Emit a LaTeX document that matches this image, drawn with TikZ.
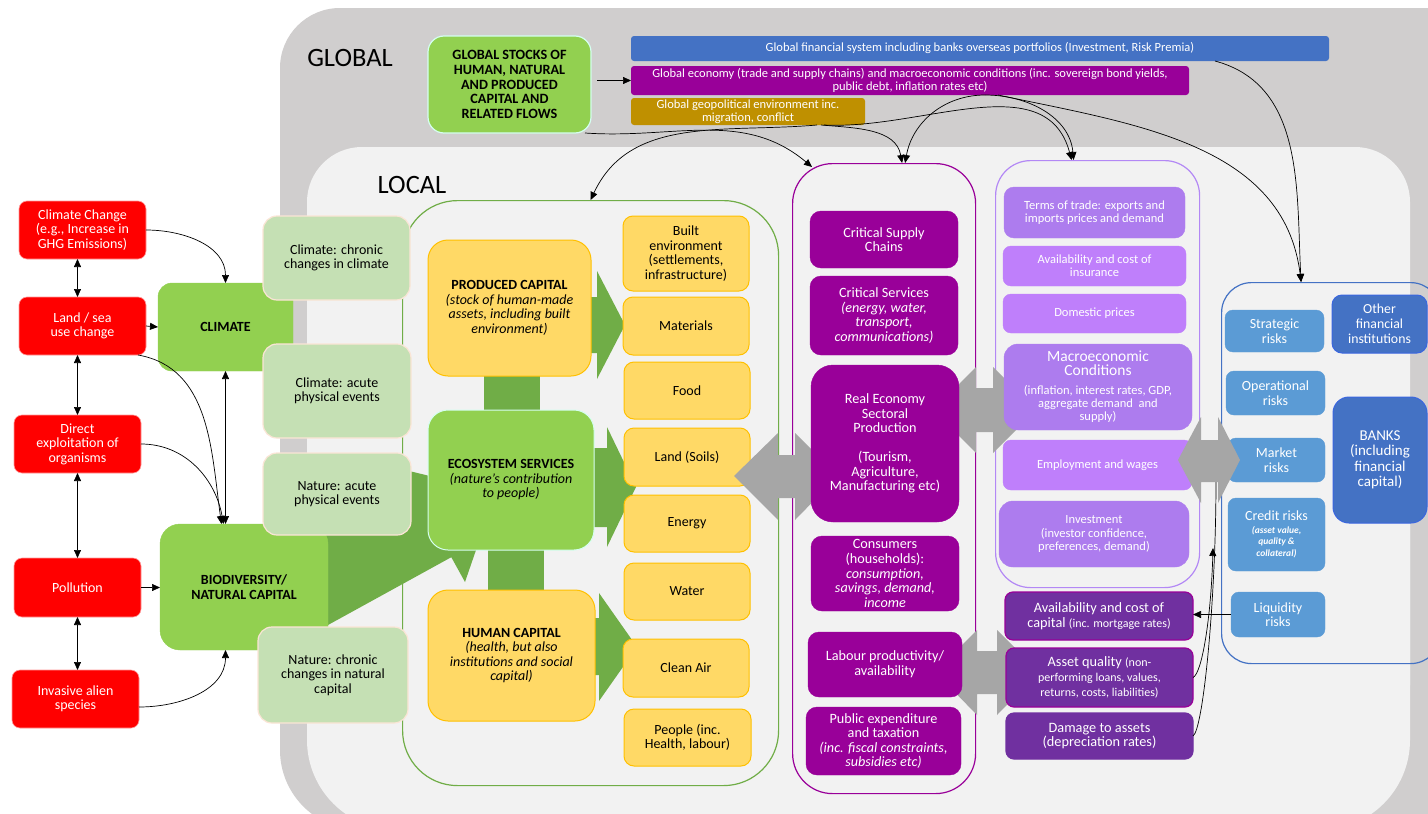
\documentclass[tikz,border=0pt]{standalone}
\usepackage{fontspec}
\setmainfont{Carlito}
\usetikzlibrary{arrows.meta,calc}
\definecolor{cGray}{HTML}{D0CECE}
\definecolor{cLocal}{HTML}{F2F2F2}
\definecolor{cRed}{HTML}{FF0000}
\definecolor{cRedB}{HTML}{FF9A9A}
\definecolor{cGreen}{HTML}{92D050}
\definecolor{cDGreen}{HTML}{70AD47}
\definecolor{cLGreen}{HTML}{C5E0B4}
\definecolor{cPeach}{HTML}{FBE5D6}
\definecolor{cYellow}{HTML}{FFD966}
\definecolor{cYellowB}{HTML}{FFC000}
\definecolor{cPurple}{HTML}{990099}
\definecolor{cLPurpleA}{HTML}{AD7CEE}
\definecolor{cLPurpleB}{HTML}{BF7FFB}
\definecolor{cLPurpleBorder}{HTML}{B388F5}
\definecolor{cDPurple}{HTML}{7030A0}
\definecolor{cBlueL}{HTML}{5B9BD5}
\definecolor{cBlue}{HTML}{4472C4}
\definecolor{cBlueB}{HTML}{3A66E0}
\definecolor{cGold}{HTML}{BF9000}
\definecolor{cArrow}{HTML}{A6A6A6}
\definecolor{cCyan}{HTML}{D5FFF0}
\newcommand{\bx}[7]{\node[#1,anchor=north west,minimum width={#5-#3},minimum height={#6-#4}] (#2) at (#3,#4) {#7};}
\newcommand{\mfont}{\fontsize{15.5}{17}\selectfont}
\newcommand{\crfont}{\fontsize{9.5}{10}\selectfont\bfseries\itshape}
\newcommand{\smf}{\fontsize{12}{13}\selectfont}
\newcommand{\asf}{\fontsize{12}{13}\selectfont}
\tikzset{
  base/.style={align=center, inner sep=2pt, outer sep=0pt},
  redb/.style={base, fill=cRed, draw=cRedB, line width=0.6pt, rounded corners=8pt, text=white, font=\fontsize{14}{14.5}\selectfont},
  greenb/.style={base, fill=cGreen, draw=cGreen, font=\fontsize{14}{15.5}\selectfont\bfseries},
  lgreenb/.style={base, fill=cLGreen, draw=cPeach, line width=1.2pt, rounded corners=14pt, font=\fontsize{14}{14.5}\selectfont},
  capb/.style={base, fill=cYellow, draw=cYellowB, line width=1pt, rounded corners=20pt, font=\fontsize{14}{14.5}\selectfont},
  yb/.style={base, fill=cYellow, draw=cYellowB, line width=1pt, rounded corners=10pt, font=\fontsize{14}{14.5}\selectfont},
  gstockst/.style={base, fill=cGreen, draw=cCyan, line width=1.2pt, rounded corners=16pt, font=\fontsize{14.2}{14.6}\selectfont\bfseries},
  barst/.style={base, inner sep=1pt, rounded corners=3pt, text=white, font=\fontsize{12.5}{13.5}\selectfont},
  contst/.style={draw, line width=1.2pt, fill=none, inner sep=0pt},
  pb/.style={base, fill=cPurple, draw=cPurple, rounded corners=11pt, text=white, font=\fontsize{14.2}{14.6}\selectfont},
  lpA/.style={base, fill=cLPurpleA, draw=cLPurpleA, rounded corners=10pt, text=white, font=\fontsize{12.5}{13.2}\selectfont},
  lpB/.style={base, fill=cLPurpleB, draw=cLPurpleB, rounded corners=8pt, text=white, font=\fontsize{12.5}{13.2}\selectfont},
  dpb/.style={base, fill=cDPurple, draw=cDPurple, line width=1.2pt, rounded corners=8pt, text=white, font=\fontsize{14.3}{14.8}\selectfont},
  rb/.style={base, fill=cBlueL, draw=cBlueL, rounded corners=8pt, text=white, font=\fontsize{14}{14.5}\selectfont},
  bb/.style={base, fill=cBlue, draw=cBlueB, line width=1pt, rounded corners=10pt, text=white, font=\fontsize{13.8}{15}\selectfont},
  arr/.style={-{Triangle[length=8pt,width=7pt]}, line width=0.7pt, black},
  darr/.style={{Triangle[length=8pt,width=7pt]}-{Triangle[length=8pt,width=7pt]}, line width=0.7pt, black},
  garrow/.style={fill=cArrow},
  dgarrow/.style={fill=cDGreen}
}
\begin{document}
\begin{tikzpicture}[x=1pt,y=-1pt]
\useasboundingbox (0,0) rectangle (1428,814);
\clip (0,0) rectangle (1428,814);
\fill[white] (0,0) rectangle (1428,814);
% panels
\fill[cGray, rounded corners=60pt] (280,8) rectangle (1490,600);
\fill[cGray, rounded corners=80pt] (280,300) rectangle (1490,830);
\fill[cLocal, rounded corners=55pt] (307,147) rectangle (1410,740);
\fill[cLocal, rounded corners=90pt] (307,400) rectangle (1410,830);
\node[font=\fontsize{26.5}{30}\selectfont] (tglobal) at (350,58) {GLOBAL};
\node[font=\fontsize{26.5}{30}\selectfont] (tlocal) at (412,185) {LOCAL};
% containers
\bx{contst,draw=cDGreen,rounded corners=55pt}{gcont}{402}{200}{778}{785}{}
\bx{contst,draw=cPurple,rounded corners=40pt}{pcont}{792}{163}{975}{793}{}
\bx{contst,draw=cLPurpleBorder,rounded corners=35pt}{lpcont}{995}{160}{1199}{587}{}
\bx{contst,draw=cBlue,rounded corners=30pt}{bcont}{1221}{282}{1440}{663}{}
% dark green block arrows
\fill[dgarrow] (585,297) -- (597,297) -- (597,271) -- (625,325) -- (597,379) -- (597,353) -- (585,353) -- cycle;
\fill[dgarrow] (590,448) -- (607,448) -- (607,427) -- (636,487) -- (607,547) -- (607,527) -- (590,527) -- cycle;
\fill[dgarrow] (590,618) -- (599,618) -- (599,593) -- (637,647) -- (599,701) -- (599,675) -- (590,675) -- cycle;
\fill[dgarrow] (484,370) rectangle (540,415);
\fill[dgarrow] (488,545) rectangle (544,595);
\fill[dgarrow] (300,640.4) -- (451.3,557.2) -- (465,582) -- (496,492) -- (405,470) -- (411.2,484.2) -- (300,545.4) -- cycle;
% gray arrows under boxes
\fill[garrow] (933,410) -- (976,367) -- (976,388) -- (993,388) -- (993,367) -- (1036,410) -- (993,453) -- (993,432) -- (976,432) -- (976,453) -- cycle;
\fill[garrow] (935,672) -- (977,630) -- (977,651) -- (997,651) -- (997,630) -- (1039,672) -- (997,715) -- (997,694) -- (977,694) -- (977,715) -- cycle;
% global boxes
\bx{gstockst}{gstock}{428}{36}{591}{133}{GLOBAL STOCKS OF\\HUMAN, NATURAL\\AND PRODUCED\\CAPITAL AND\\RELATED FLOWS}
\bx{barst,fill=cBlue}{gfin}{631}{36}{1329}{61}{Global financial system including banks overseas portfolios (Investment, Risk Premia)}
\bx{barst,fill=cPurple}{gecon}{631}{66}{1189}{95}{Global economy (trade and supply chains) and macroeconomic conditions (inc. sovereign bond yields,\\public debt, inflation rates etc)}
\bx{barst,fill=cGold}{geo}{631}{98}{865}{125}{Global geopolitical environment inc.\\migration, conflict}
% red drivers
\bx{redb}{cc}{19}{201}{146}{259}{Climate Change\\(e.g., Increase in\\GHG Emissions)}
\bx{redb}{land}{19}{297}{146}{355}{Land / sea\\use change}
\bx{redb}{dir}{14}{415}{141}{473}{Direct\\exploitation of\\organisms}
\bx{redb}{poll}{14}{558}{141}{617}{Pollution}
\bx{redb}{inv}{12}{670}{139}{728}{Invasive alien\\species}
% green
\bx{greenb,rounded corners=14pt}{climate}{158}{283}{293}{371}{CLIMATE}
\bx{greenb,rounded corners=20pt}{bio}{160}{524}{328}{650}{BIODIVERSITY/\\NATURAL CAPITAL}
\bx{lgreenb}{cchron}{263}{216}{410}{300}{Climate: chronic\\changes in climate}
\bx{lgreenb}{cacute}{263}{344}{411}{438}{Climate: acute\\physical events}
\bx{lgreenb}{nacute}{263}{453}{411}{535}{Nature: acute\\physical events}
\bx{lgreenb}{nchron}{258}{627}{408}{723}{Nature: chronic\\changes in natural\\capital}
% capitals
\bx{capb}{prod}{428}{240}{591}{376}{\textbf{PRODUCED CAPITAL}\\\textit{(stock of human-made}\\\textit{assets, including built}\\\textit{environment)}}
\bx{capb,fill=cGreen,draw=cCyan}{eco}{428}{410}{594}{550}{\textbf{ECOSYSTEM SERVICES}\\\textit{(nature's contribution}\\\textit{to people)}}
\bx{capb}{hum}{428}{590}{595}{721}{\textbf{HUMAN CAPITAL}\\\textit{(health, but also}\\\textit{institutions and social}\\\textit{capital)}}
% yellow flows
\bx{yb}{built}{623}{216}{749}{291}{Built\\environment\\(settlements,\\infrastructure)}
\bx{yb}{mat}{623}{297}{749}{355}{Materials}
\bx{yb}{food}{624}{362}{750}{419}{Food}
\bx{yb}{soil}{624}{428}{750}{486}{Land (Soils)}
\bx{yb}{energy}{624}{495}{750}{552}{Energy}
\bx{yb}{water}{624}{563}{750}{620}{Water}
\bx{yb}{air}{623}{639}{749}{697}{Clean Air}
\bx{yb}{people}{624}{709}{751}{766}{People (inc.\\Health, labour)}
% gray arrow over yellow, under purple
\fill[garrow] (734,476) -- (778,433) -- (778,455) -- (795,455) -- (795,433) -- (838,476) -- (795,520) -- (795,498) -- (778,498) -- (778,520) -- cycle;
% purple column
\bx{pb}{csc}{810}{211}{958}{268}{Critical Supply\\Chains}
\bx{pb}{cserv}{810}{276}{958}{355}{Critical Services\\\textit{(energy, water,}\\\textit{transport,}\\\textit{communications)}}
\bx{pb,rounded corners=22pt}{real}{811}{365}{959}{522}{Real Economy\\Sectoral\\Production\\[14pt](Tourism,\\Agriculture,\\Manufacturing etc)}
\bx{pb}{cons}{811}{536}{959}{611}{Consumers\\(households):\\\textit{consumption,}\\\textit{savings, demand,}\\\textit{income}}
\bx{pb}{lab}{808}{632}{962}{697}{Labour productivity/\\availability}
\bx{pb}{pub}{806}{707}{961}{775}{Public expenditure\\and taxation\\\textit{(inc. fiscal constraints,}\\\textit{subsidies etc)}}
% light purple column
\bx{lpA}{tot}{1004}{187}{1185}{238}{Terms of trade: exports and\\imports prices and demand}
\bx{lpB}{ins}{1003}{246}{1186}{286}{Availability and cost of\\insurance}
\bx{lpB}{dom}{1003}{294}{1186}{333}{Domestic prices}
\bx{lpA,rounded corners=14pt}{macro}{1004}{344}{1192}{430}{\mfont Macroeconomic\\\mfont Conditions\\[6pt](inflation, interest rates, GDP,\\aggregate demand\ \ and\\supply)}
\bx{lpB}{emp}{1003}{440}{1192}{490}{Employment and wages}
\bx{lpA,rounded corners=14pt}{invest}{999}{501}{1189}{567}{Investment\\(investor confidence,\\preferences, demand)}
% dark purple
\bx{dpb,draw=cPurple}{cap}{1005}{592}{1193}{640}{Availability and cost of\\capital {\smf(inc. mortgage rates)}}
\bx{dpb,draw=cPurple}{asset}{1006}{648}{1193}{707}{Asset quality {\asf(non-}\\\asf performing loans, values,\\\asf returns, costs, liabilities)}
\bx{dpb}{dmg}{1006}{713}{1193}{759}{Damage to assets\\(depreciation rates)}
% blue
\bx{rb}{strat}{1225}{310}{1324}{352}{Strategic\\risks}
\bx{rb}{oper}{1226}{371}{1325}{415}{Operational\\risks}
\bx{rb}{mkt}{1228}{438}{1325}{482}{Market\\risks}
\bx{rb}{cred}{1228}{498}{1325}{571}{Credit risks\\[-2pt]\crfont (asset value,\\[-3pt]\crfont quality \&\\[-3pt]\crfont collateral)}
\bx{rb}{liq}{1231}{592}{1325}{637}{Liquidity\\risks}
\bx{bb}{ofi}{1332}{295}{1427}{353}{Other\\financial\\institutions}
\bx{bb,rounded corners=16pt,font=\fontsize{15}{15.5}\selectfont}{banks}{1333}{397}{1427}{523}{BANKS\\(including\\financial\\capital)}
% connectors left
\coordinate (bioin) at (climate.south |- bio.north);
\draw[arr] (cc.east) to[out=0,in=90] (climate.north);
\draw[darr] (cc.south -| dir.north) -- (land.north -| dir.north);
\draw[darr] (land.south -| dir.north) -- (dir.north);
\draw[darr] (dir.south) -- (poll.north);
\draw[darr] (poll.south) -- (poll.south |- inv.north);
\draw[arr] (land.east) -- (climate.west);
\draw[darr] (climate.south) -- (bioin);
\draw[arr] ([xshift=-8pt]land.south east) to[out=-10,in=98] ([xshift=-4pt]bioin);
\draw[arr] (dir.east) to[out=0,in=100] ([xshift=-2pt]bioin);
\draw[arr] (poll.east) -- (poll.east -| bio.west);
\draw[arr] ([yshift=-8pt]inv.east) to[out=0,in=-90] (climate.south |- bio.south);
% global connectors
\draw[arr, shorten <=6pt] (gstock.east |- gecon.west) -- (gecon.west);
\draw[arr] ([xshift=-6pt]gstock.south east) to[out=-4,in=140] ([shift={(20,4)}]pcont.north west);
\draw[arr] ([xshift=69pt]geo.south) to[out=185,in=65] (gcont.north);
\draw[arr] ([xshift=73pt]geo.south) to[out=-5,in=100] ([xshift=18pt]pcont.north);
\draw[arr] ([xshift=76pt]geo.south) to[out=-3,in=105] ([xshift=-26pt]lpcont.north);
\draw[arr] ([xshift=75pt]gecon.south) to[out=180,in=80] ([xshift=21pt]pcont.north);
\draw[arr] ([xshift=75pt]gecon.south) to[out=0,in=95] ([xshift=-24pt]lpcont.north);
\draw[arr] ([xshift=88pt]gecon.south) to[out=-12,in=97] ([xshift=-30pt]bcont.north);
\draw[arr] ([xshift=-114pt]gfin.south east) to[out=-15,in=93] ([xshift=-30pt]bcont.north);
% right connectors
\coordinate (ar1) at (1213,548);
\coordinate (ar2) at (1216,472);
\draw[arr] (liq.west) -- (liq.west -| cap.east);
\draw[arr] (asset.east) .. controls +(9,-4) and +(-2,70) .. (ar1);
\draw[arr] (dmg.east) .. controls +(10,-6) and +(0,130) .. (ar2);
% gray arrow on top
\fill[garrow] (1178,460) -- (1201,417) -- (1201,440) -- (1218,440) -- (1218,417) -- (1240,460) -- (1218,503) -- (1218,482) -- (1201,482) -- (1201,503) -- cycle;
\end{tikzpicture}
\end{document}
